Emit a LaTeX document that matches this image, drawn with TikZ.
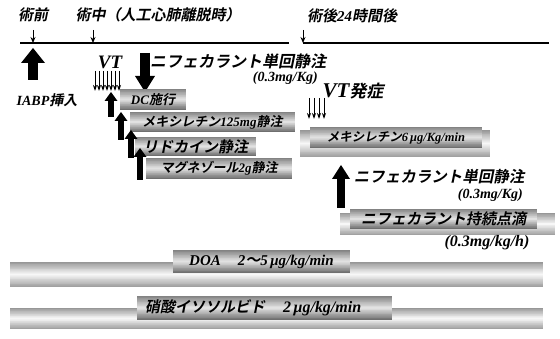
\documentclass[tikz,border=0pt]{standalone}
\usepackage{fontspec}
\setmainfont{Liberation Serif}
\newfontfamily\jpf[FakeSlant=0.2]{Noto Sans CJK JP Bold}
\usetikzlibrary{arrows.meta,calc}
\newcommand\jtxt[1]{{\jpf #1}}
\newcommand\ltxt[1]{{\bfseries\itshape #1}}
\newcommand\gradfill[3]{%
  \path (path picture bounding box.north west) coordinate (gNW)
        (path picture bounding box.south east) coordinate (gSE);
  \foreach \i in {0,...,29}{%
    \pgfmathsetmacro\f{(\i+0.5)/30}%
    \pgfmathsetmacro\g{\f<0.5 ? #1+(#2-#1)*\f*2 : #2+(#3-#2)*(\f-0.5)*2}%
    \fill[black!\g] ($(gNW)!{\i/30}!(gNW|-gSE)$) rectangle ($(gSE|-gNW)!{(\i+1.4)/30}!(gSE)$);
  }}
\tikzset{
  cyl/.style={draw=none, inner sep=0pt, path picture={\gradfill{42}{2}{38}}},
  lbox/.style={draw=none, inner sep=0pt, path picture={\gradfill{50}{10}{58}}, font=\fontsize{13}{14}\selectfont},
  lbl/.style={inner sep=0pt, font=\fontsize{14}{15}\selectfont},
  tl/.style={line width=1.5pt},
  tick/.style={line width=0.9pt, -{Stealth[width=5pt,length=6pt]}},
  rake/.style={line width=0.9pt, -{Stealth[width=4pt,length=6pt]}},
  blk/.style n args={3}{line width=#1, -{Triangle[width=#2,length=#3,line width=0pt]}},
}
\begin{document}
\begin{tikzpicture}[x=1pt,y=-1pt]
\useasboundingbox (0,0) rectangle (560,339);
% timeline
\coordinate (l1a) at (20,43); \coordinate (l1b) at (289,43);
\coordinate (l2a) at (303,43); \coordinate (l2b) at (549,43);
\draw[tl] (l1a) -- (l1b);
\draw[tl] (l2a) -- (l2b);
\node[lbl, font=\fontsize{15}{16}\selectfont] (pre) at (33,15) {\jtxt{術前}};
\node[lbl, font=\fontsize{15}{16}\selectfont] (intra) at (158,15) {\jtxt{術中（人工心肺離脱時）}};
\node[lbl, font=\fontsize{15}{16}\selectfont] (post) at (352,16) {\jtxt{術後}\ltxt{24}\jtxt{時間後}};
\coordinate (t1a) at (33,30); \coordinate (t1b) at (33,43);
\coordinate (t2a) at (93,30); \coordinate (t2b) at (93,43);
\coordinate (t3a) at (303,30); \coordinate (t3b) at (303,43);
\draw[tick] (t1a) -- (t1b);
\draw[tick] (t2a) -- (t2b);
\draw[tick] (t3a) -- (t3b);
% IABP
\coordinate (iabpB) at (33,80); \coordinate (iabpT) at (33,48);
\draw[blk={10pt}{24pt}{15pt}] (iabpB) -- (iabpT);
\node[lbl] (iabp) at (47,100) {\ltxt{IABP}\jtxt{挿入}};
% VT rake intraop
\node[lbl, font=\fontsize{19}{20}\selectfont] (vt1) at (110,62) {\ltxt{VT}};
\foreach \i in {0,...,6} {
  \coordinate (ra\i) at (95+4*\i,71); \coordinate (rb\i) at (95+4*\i,91);
  \draw[rake] (ra\i) -- (rb\i);
}
% nifekalant bolus intraop
\coordinate (n1T) at (145,53); \coordinate (n1B) at (145,92);
\draw[blk={10pt}{20pt}{16pt}] (n1T) -- (n1B);
\node[lbl, font=\fontsize{16}{17}\selectfont] (nif1) at (238,61) {\jtxt{ニフェカラント単回静注}};
\node[lbl, anchor=east, font=\fontsize{14}{15}\selectfont] (nif1d) at (318,78) {\ltxt{(0.3mg/Kg)}};
% intraop boxes
\node[lbox, minimum width=66pt, minimum height=21pt] (dc) at (153,99.5) {\ltxt{DC}\jtxt{施行}};
\node[lbox, minimum width=165pt, minimum height=20pt] (mex1) at (212.5,122) {\jtxt{メキシレチン}\ltxt{125mg}\jtxt{静注}};
\node[lbox, minimum width=121pt, minimum height=19pt, font=\fontsize{15}{16}\selectfont] (lido) at (195.5,146.5) {\jtxt{リドカイン静注}};
\node[lbox, minimum width=146pt, minimum height=21pt] (mag) at (219,168.5) {\jtxt{マグネゾール}\ltxt{2g}\jtxt{静注}};
\coordinate (u1B) at (111,117); \coordinate (u1T) at (111,92);
\coordinate (u2B) at (121,140); \coordinate (u2T) at (121,112);
\coordinate (u3B) at (131,158); \coordinate (u3T) at (131,130);
\coordinate (u4B) at (140,180); \coordinate (u4T) at (140,148);
\draw[blk={6pt}{13pt}{9pt}] (u1B) -- (u1T);
\draw[blk={6pt}{13pt}{9pt}] (u2B) -- (u2T);
\draw[blk={6pt}{13pt}{9pt}] (u3B) -- (u3T);
\draw[blk={6pt}{13pt}{9pt}] (u4B) -- (u4T);
% VT onset
\node[lbl] (vt2) at (353,91) {{\fontsize{21}{22}\selectfont\ltxt{VT}}{\fontsize{17}{18}\selectfont\jtxt{発症}}};
\foreach \i in {0,...,3} {
  \coordinate (sa\i) at (309+5*\i,98); \coordinate (sb\i) at (309+5*\i,119);
  \draw[rake] (sa\i) -- (sb\i);
}
% mexiletine infusion
\node[cyl, minimum width=190pt, minimum height=27pt] (mex2c) at (395,143.5) {};
\node[lbox, minimum width=172pt, minimum height=21pt, font=\fontsize{12.5}{13}\selectfont] (mex2) at (396,137.5) {\jtxt{メキシレチン}\ltxt{6\,μg/Kg/min}};
% nifekalant bolus post
\coordinate (n2B) at (341,208); \coordinate (n2T) at (341,165);
\draw[blk={8pt}{18pt}{14pt}] (n2B) -- (n2T);
\node[lbl, font=\fontsize{15.5}{16}\selectfont] (nif2) at (439,177) {\jtxt{ニフェカラント単回静注}};
\node[lbl, anchor=east, font=\fontsize{14}{15}\selectfont] (nif2d) at (523,195) {\ltxt{(0.3mg/Kg)}};
% nifekalant infusion
\node[cyl, minimum width=215pt, minimum height=22pt] (nif3c) at (447.5,224) {};
\node[lbox, minimum width=187pt, minimum height=20pt, font=\fontsize{15}{16}\selectfont] (nif3) at (443.5,219) {\jtxt{ニフェカラント持続点滴}};
\node[lbl, font=\fontsize{16}{17}\selectfont] (nif3d) at (487,243) {\ltxt{(0.3mg/kg/h)}};
% DOA
\node[cyl, minimum width=533pt, minimum height=25pt] (doac) at (276.5,274.5) {};
\node[lbox, minimum width=177pt, minimum height=23pt, font=\fontsize{15}{16}\selectfont] (doa) at (261.5,261.5) {\ltxt{DOA}\hspace{17pt}\ltxt{2}\jtxt{〜}\ltxt{5\,μg/kg/min}};
% ISDN
\node[cyl, minimum width=533pt, minimum height=21pt] (isdnc) at (276.5,318.5) {};
\node[lbox, minimum width=255pt, minimum height=24pt, text width=239pt, align=left, inner xsep=8pt, font=\fontsize{15}{16}\selectfont] (isdn) at (264.5,308) {\jtxt{硝酸イソソルビド}\hspace{18pt}{\fontsize{16}{17}\selectfont\ltxt{2\,μg/kg/min}}};
\end{tikzpicture}
\end{document}
